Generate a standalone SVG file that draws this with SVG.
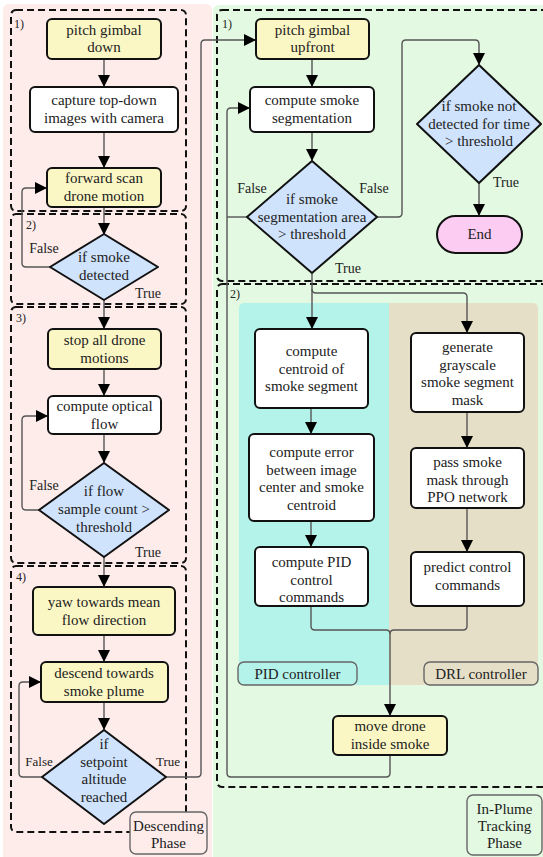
<svg xmlns="http://www.w3.org/2000/svg" width="543" height="857" viewBox="0 0 543 857">
<defs>
<marker id="arr" markerUnits="userSpaceOnUse" markerWidth="12" markerHeight="14" refX="12" refY="6" orient="auto">
<path d="M0,0 L12,6 L0,12 Z" fill="#000"/>
</marker>
<style>
text{font-family:"Liberation Serif","DejaVu Serif",serif;font-size:15px;fill:#222;text-anchor:middle}
.lbl{font-size:14px}
.sec{font-size:12px;text-anchor:start}
.node{stroke:#111;stroke-width:2}
.y{fill:#fbf7c4}
.w{fill:#fff}
.d{fill:#cfe3fd;stroke-linejoin:round}
.dash{fill:none;stroke:#111;stroke-width:2;stroke-dasharray:7 4}
.c{fill:none;stroke:#555;stroke-width:1.4}
.a{marker-end:url(#arr)}
.phase{stroke:#666;stroke-width:1.4}
</style>
</defs>

<g id="backgrounds">
<rect x="3" y="4" width="209" height="860" rx="6" fill="#fdecea"/>
<rect x="213" y="5" width="336" height="860" rx="6" fill="#e3f9e1"/>
<rect x="239" y="303" width="150" height="382" rx="5" fill="#b4f3ea"/>
<rect x="389" y="303" width="149" height="382" rx="5" fill="#e6dfc8"/>
<rect x="389" y="303" width="10" height="382" fill="#e6dfc8"/>
<rect x="379" y="303" width="10" height="382" fill="#b4f3ea"/>
</g>

<g id="sections">
<rect class="dash" x="11" y="10" width="175" height="201" rx="5"/>
<rect class="dash" x="11" y="214" width="175" height="90" rx="5"/>
<rect class="dash" x="11" y="307" width="175" height="256" rx="5"/>
<rect class="dash" x="11" y="566" width="175" height="266" rx="5"/>
<rect class="dash" x="217" y="10" width="340" height="271" rx="5"/>
<rect class="dash" x="217" y="284" width="340" height="503" rx="5"/>
<text class="sec" x="14" y="28">1)</text>
<text class="sec" x="26" y="229">2)</text>
<text class="sec" x="16" y="322">3)</text>
<text class="sec" x="16" y="581">4)</text>
<text class="sec" x="222" y="28">1)</text>
<text class="sec" x="230" y="298">2)</text>
</g>

<g id="connectors">
<path class="c a" d="M104,59 V87"/>
<path class="c a" d="M104,132 V168"/>
<path class="c a" d="M104,207 V235"/>
<path class="c a" d="M50,267 H26 Q22,267 22,263 V192 Q22,188 26,188 H47"/>
<path class="c a" d="M104,300 V329"/>
<path class="c a" d="M104,369 V396"/>
<path class="c a" d="M104,434 V463"/>
<path class="c a" d="M39,510 H26 Q22,510 22,506 V420 Q22,416 26,416 H48"/>
<path class="c a" d="M104,557 V587"/>
<path class="c a" d="M104,635 V662"/>
<path class="c a" d="M104,702 V730"/>
<path class="c a" d="M42,777 H23 Q19,777 19,773 V686 Q19,682 23,682 H41"/>
<path class="c a" d="M166,777 H197 Q201,777 201,773 V44 Q201,40 205,40 H256"/>
<path class="c a" d="M312,59 V87"/>
<path class="c a" d="M312,132 V161"/>
<path class="c" d="M247,217 H227"/>
<path class="c a" d="M390,755 V773 Q390,777 386,777 H231 Q227,777 227,773 V112 Q227,108 231,108 H250"/>
<path class="c a" d="M377,217 H398 Q402,217 402,213 V44 Q402,40 406,40 H475 Q479,40 479,44 V65"/>
<path class="c a" d="M479,183 V216"/>
<path class="c a" d="M312,274 V329"/>
<path class="c a" d="M312,289 Q312,293 316,293 H463 Q467,293 467,297 V333"/>
<path class="c a" d="M311,521 V547"/>
<path class="c a" d="M311,408 V434"/>
<path class="c a" d="M467,412 V448"/>
<path class="c a" d="M467,508 V552"/>
<path class="c" d="M311,606 V626 Q311,630 315,630 H386 Q390,630 390,634"/>
<path class="c" d="M467,606 V626 Q467,630 463,630 H394 Q390,630 390,634"/>
<path class="c a" d="M390,634 V716"/>
<text class="lbl" x="44" y="253">False</text>
<text class="lbl" x="148" y="298">True</text>
<text class="lbl" x="44" y="490">False</text>
<text class="lbl" x="148" y="557">True</text>
<text class="lbl" x="39" y="766" style="font-size:13px">False</text>
<text class="lbl" x="168" y="766" style="font-size:13px">True</text>
<text class="lbl" x="252" y="193">False</text>
<text class="lbl" x="374" y="193">False</text>
<text class="lbl" x="348" y="273">True</text>
<text class="lbl" x="506" y="187">True</text>
</g>

<g id="n_pitch_down">
<rect class="node y" x="47" y="19" width="114" height="40" rx="5"/>
<text x="104" y="35">pitch gimbal</text><text x="104" y="52">down</text>
</g>
<g id="n_capture">
<rect class="node w" x="30" y="87" width="148" height="45" rx="5"/>
<text x="104" y="105">capture top-down</text><text x="104" y="122.5">images with camera</text>
</g>
<g id="n_forward">
<rect class="node y" x="47" y="168" width="114" height="39" rx="5"/>
<text x="104" y="183">forward scan</text><text x="104" y="200.5">drone motion</text>
</g>
<g id="n_smoke_detected">
<path class="node d" d="M104,234 L158,267 L104,300 L50,267 Z"/>
<text x="104" y="262">if smoke</text><text x="104" y="280">detected</text>
</g>
<g id="n_stop">
<rect class="node y" x="48" y="329" width="113" height="40" rx="5"/>
<text x="104.5" y="345">stop all drone</text><text x="104.5" y="362.5">motions</text>
</g>
<g id="n_optical">
<rect class="node w" x="48" y="396" width="113" height="38" rx="5"/>
<text x="104.5" y="411">compute optical</text><text x="104.5" y="428.5">flow</text>
</g>
<g id="n_flow_count">
<path class="node d" d="M104,463 L169,510 L104,557 L39,510 Z"/>
<text x="104" y="496">if flow</text><text x="104" y="514">sample count &gt;</text><text x="104" y="531.5">threshold</text>
</g>
<g id="n_yaw">
<rect class="node y" x="33" y="587" width="142" height="48" rx="5"/>
<text x="104" y="607">yaw towards mean</text><text x="104" y="624.5">flow direction</text>
</g>
<g id="n_descend">
<rect class="node y" x="41" y="662" width="127" height="40" rx="5"/>
<text x="104" y="678">descend towards</text><text x="104" y="695.5">smoke plume</text>
</g>
<g id="n_altitude">
<path class="node d" d="M104,730 L166,777 L104,824 L42,777 Z"/>
<text x="104" y="749">if</text><text x="104" y="766.5">setpoint</text><text x="104" y="784">altitude</text><text x="104" y="801.5">reached</text>
</g>
<g id="n_desc_phase">
<rect class="phase" x="130" y="812" width="77" height="42" rx="6" fill="#fdecea"/>
<text x="168.5" y="831">Descending</text><text x="168.5" y="848">Phase</text>
</g>

<g id="n_pitch_up">
<rect class="node y" x="256" y="19" width="113" height="40" rx="5"/>
<text x="312.5" y="35">pitch gimbal</text><text x="312.5" y="52">upfront</text>
</g>
<g id="n_segmentation">
<rect class="node w" x="250" y="87" width="124" height="45" rx="5"/>
<text x="312" y="105">compute smoke</text><text x="312" y="122.5">segmentation</text>
</g>
<g id="n_seg_area">
<path class="node d" d="M312,161 L377,217 L312,273 L247,217 Z"/>
<text x="312" y="204">if smoke</text><text x="312" y="222">segmentation area</text><text x="312" y="239">&gt; threshold</text>
</g>
<g id="n_not_detected">
<path class="node d" d="M479,65 L541,124 L479,183 L417,124 Z"/>
<text x="479" y="111">if smoke not</text><text x="479" y="128.5">detected for time</text><text x="479" y="146">&gt; threshold</text>
</g>
<g id="n_end">
<rect class="node" x="437" y="216" width="85" height="37" rx="18.5" fill="#fdccf3"/>
<text x="479.5" y="239">End</text>
</g>
<g id="n_centroid">
<rect class="node w" x="255" y="329" width="113" height="79" rx="5"/>
<text x="311.5" y="356">compute</text><text x="311.5" y="373.5">centroid of</text><text x="311.5" y="391">smoke segment</text>
</g>
<g id="n_error">
<rect class="node w" x="249" y="434" width="125" height="87" rx="5"/>
<text x="311.5" y="457">compute error</text><text x="311.5" y="474.5">between image</text><text x="311.5" y="492">center and smoke</text><text x="311.5" y="509.5">centroid</text>
</g>
<g id="n_pid_cmd">
<rect class="node w" x="255" y="547" width="113" height="59" rx="5"/>
<text x="311.5" y="567">compute PID</text><text x="311.5" y="584.5">control</text><text x="311.5" y="602">commands</text>
</g>
<g id="n_grayscale">
<rect class="node w" x="411" y="333" width="113" height="79" rx="5"/>
<text x="467.5" y="352">generate</text><text x="467.5" y="369.5">grayscale</text><text x="467.5" y="387">smoke segment</text><text x="467.5" y="404.5">mask</text>
</g>
<g id="n_ppo">
<rect class="node w" x="411" y="448" width="113" height="60" rx="5"/>
<text x="467.5" y="467">pass smoke</text><text x="467.5" y="484.5">mask through</text><text x="467.5" y="502">PPO network</text>
</g>
<g id="n_predict">
<rect class="node w" x="411" y="552" width="113" height="54" rx="5"/>
<text x="467.5" y="572">predict control</text><text x="467.5" y="589.5">commands</text>
</g>
<g id="n_pid_label">
<rect class="phase" x="238" y="662" width="119" height="23" rx="6" fill="#b4f3ea"/>
<text x="297.5" y="678.5">PID controller</text>
</g>
<g id="n_drl_label">
<rect class="phase" x="424" y="662" width="114" height="23" rx="6" fill="#e6dfc8"/>
<text x="481" y="678.5">DRL controller</text>
</g>
<g id="n_move">
<rect class="node y" x="333" y="716" width="114" height="39" rx="5"/>
<text x="390" y="731">move drone</text><text x="390" y="748.5">inside smoke</text>
</g>
<g id="n_plume_phase">
<rect class="phase" x="467" y="795" width="75" height="60" rx="6" fill="#e3f9e1"/>
<text x="504.5" y="814">In-Plume</text><text x="504.5" y="831">Tracking</text><text x="504.5" y="848">Phase</text>
</g>
</svg>
